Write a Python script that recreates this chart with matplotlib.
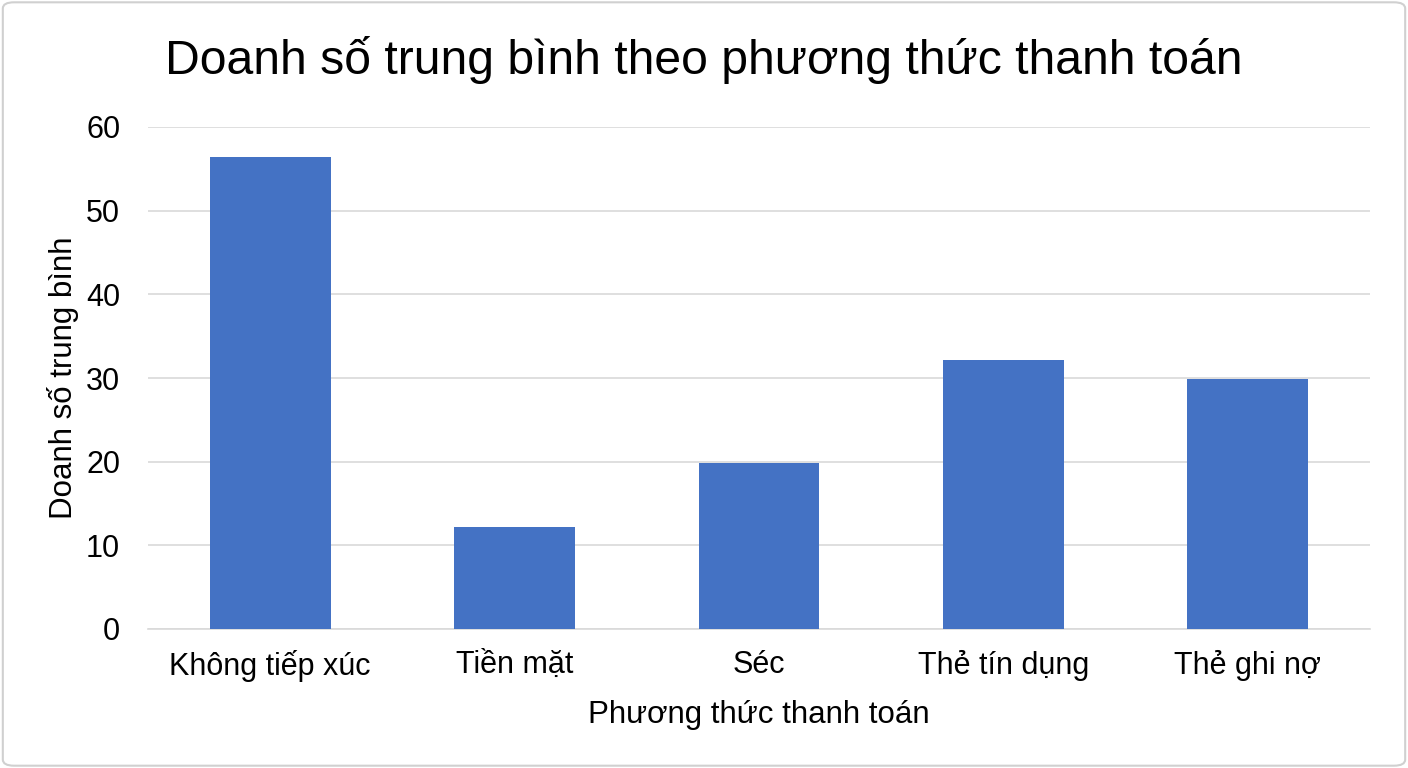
import matplotlib.pyplot as plt
from matplotlib.patches import FancyBboxPatch

plt.rcParams['font.family'] = ['Liberation Sans', 'DejaVu Sans']

# average sales by payment method
methods = ["Không tiếp xúc", "Tiền mặt", "Séc", "Thẻ tín dụng", "Thẻ ghi nợ"]
avg_sales = [56.4, 12.2, 19.8, 32.1, 29.9]
y_ticks = [0, 10, 20, 30, 40, 50, 60]

fig = plt.figure(figsize=(14.08, 7.68), dpi=100)
ax = fig.add_axes([148 / 1408, 1 - 629 / 768, (1370 - 148) / 1408, (629 - 127) / 768])

ax.bar(range(len(methods)), avg_sales, width=0.495, color="#4472C4", zorder=3)

ax.set_xlim(-0.5, len(methods) - 0.5)
ax.set_ylim(0, 60)
ax.set_yticks(y_ticks)
ax.set_xticks(range(len(methods)))
ax.set_xticklabels(methods)
ax.tick_params(axis="both", length=0, labelsize=22, colors="black")
ax.tick_params(axis="x", pad=15)
ax.tick_params(axis="y", pad=20)
ax.yaxis.grid(True, color="#D9D9D9", linewidth=1.2, zorder=0)
for side in ["top", "right", "left"]:
    ax.spines[side].set_visible(False)
ax.spines["bottom"].set_color("#D9D9D9")
ax.spines["bottom"].set_linewidth(1.2)

ax.set_xlabel("Phương thức thanh toán", fontsize=22.5, labelpad=13)
ax.set_ylabel("Doanh số trung bình", fontsize=22.5, labelpad=5)
fig.text(0.5, 1 - 60 / 768, "Doanh số trung bình theo phương thức thanh toán",
         ha="center", va="center", fontsize=34.7)

# light frame around the chart
frame = FancyBboxPatch((0.002, 0.003), 0.996, 0.994, boxstyle="round,pad=0,rounding_size=0.008",
                       transform=fig.transFigure, fill=False, edgecolor="#D0D0D0", linewidth=1.5)
fig.patches.append(frame)

fig.savefig("out.png", dpi=100)
